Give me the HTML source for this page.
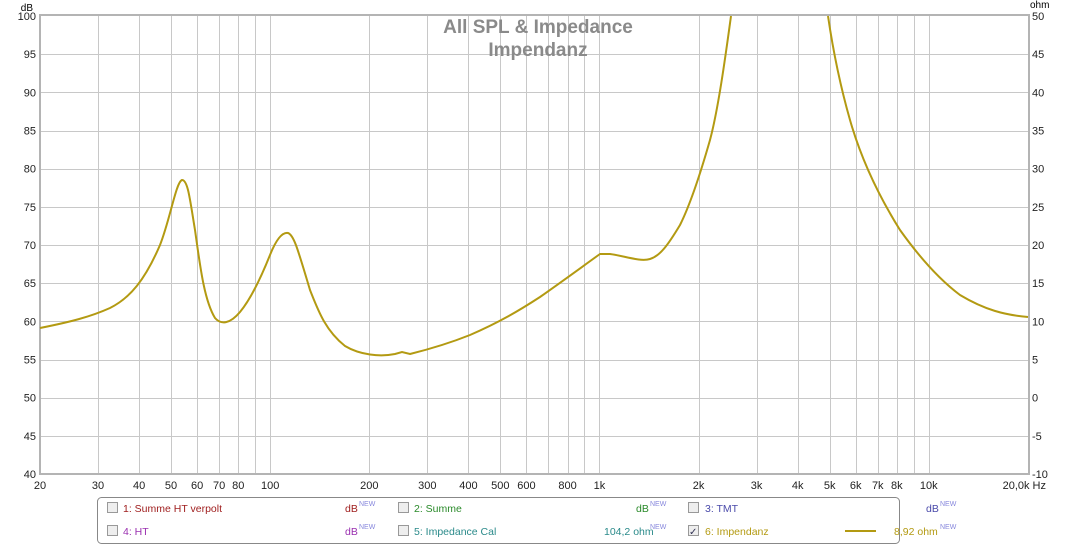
<!DOCTYPE html><html><head><style>body{margin:0;background:#fff;font-family:"Liberation Sans",sans-serif}</style></head><body>
<svg width="1078" height="545" xmlns="http://www.w3.org/2000/svg" font-family="Liberation Sans, sans-serif" font-size="11">
<rect width="1078" height="545" fill="#fff"/>
<g id="grid" stroke="#c8c8c8" stroke-width="1"></g>
<rect x="40" y="15" width="989" height="459" fill="none" stroke="#b4b4b4" stroke-width="2"/>
<text x="538" y="33" text-anchor="middle" font-size="19" font-weight="bold" fill="#8a8a8a">All SPL &amp; Impedance</text>
<text x="538" y="56" text-anchor="middle" font-size="19" font-weight="bold" fill="#8a8a8a">Impendanz</text>
<text x="33" y="11" text-anchor="end" font-size="10">dB</text>
<text x="1030" y="8" font-size="10">ohm</text>
<g id="lab" fill="#222"></g>
<path d="M40,328 C70,322 90,317 110,308 C130,298 145,280 160,245 C170,220 176,182 182,180 C188,180 190,200 195,230 C200,265 204,300 215,318 C221,325 230,324 240,312 C250,300 260,280 270,255 C276,240 282,232 288,233 C294,235 298,250 310,290 C318,310 325,330 345,346 C360,355 380,357 395,354 L402,352 L410,354 C430,349 450,343 470,335 C500,322 520,310 540,297 C560,283 575,272 600,254 L610,254 C625,256 640,262 650,259 C660,256 668,245 680,225 C690,205 700,175 710,140 C718,110 725,60 731,16" fill="none" stroke="#b39a12" stroke-width="2"/>
<path d="M828,16 C833,50 840,85 850,120 C860,155 875,190 900,230 C920,258 940,280 960,295 C985,310 1005,315 1028,317" fill="none" stroke="#b39a12" stroke-width="2"/>
<rect x="97.5" y="497.5" width="802" height="46" rx="4" fill="#fff" stroke="#888"/>
<g font-size="10.5">
<rect x="107.5" y="502.5" width="10" height="10" fill="#eee" stroke="#999"/><text x="123" y="512" fill="#a02020">1: Summe HT verpolt</text><text x="345" y="512" fill="#a02020">dB</text><text x="359" y="506" font-size="7" fill="#8888dd">NEW</text>
<rect x="398.5" y="502.5" width="10" height="10" fill="#eee" stroke="#999"/><text x="414" y="512" fill="#2a8a2a">2: Summe</text><text x="636" y="512" fill="#2a8a2a">dB</text><text x="650" y="506" font-size="7" fill="#8888dd">NEW</text>
<rect x="688.5" y="502.5" width="10" height="10" fill="#eee" stroke="#999"/><text x="705" y="512" fill="#4a4aaa">3: TMT</text><text x="926" y="512" fill="#4a4aaa">dB</text><text x="940" y="506" font-size="7" fill="#8888dd">NEW</text>
<rect x="107.5" y="525.5" width="10" height="10" fill="#eee" stroke="#999"/><text x="123" y="535" fill="#9a30b0">4: HT</text><text x="345" y="535" fill="#9a30b0">dB</text><text x="359" y="529" font-size="7" fill="#8888dd">NEW</text>
<rect x="398.5" y="525.5" width="10" height="10" fill="#eee" stroke="#999"/><text x="414" y="535" fill="#2a8a8a">5: Impedance Cal</text><text x="604" y="535" fill="#2a8a8a">104,2 ohm</text><text x="650" y="529" font-size="7" fill="#8888dd">NEW</text>
<rect x="688.5" y="525.5" width="10" height="10" fill="#eee" stroke="#999"/><text x="689" y="535" font-size="10" fill="#335">✓</text><text x="705" y="535" fill="#b39a12">6: Impendanz</text><line x1="845" y1="531" x2="876" y2="531" stroke="#b39a12" stroke-width="2"/><text x="894" y="535" fill="#b39a12">8,92 ohm</text><text x="940" y="529" font-size="7" fill="#8888dd">NEW</text>
</g>
</svg>
<script>
const g=document.getElementById('grid'),l=document.getElementById('lab'),NS='http://www.w3.org/2000/svg';
function X(f){return 40+Math.log10(f/20)*329.3}
function el(t,a,p,txt){const e=document.createElementNS(NS,t);for(const k in a)e.setAttribute(k,a[k]);if(txt!==undefined)e.textContent=txt;p.appendChild(e)}
const fs=[];for(const d of [10,100,1000,10000])for(let m=1;m<10;m++){const f=m*d;if(f>20&&f<20000)fs.push(f)}
fs.forEach(f=>{const x=Math.round(X(f))+.5;el('line',{x1:x,x2:x,y1:16,y2:474},g)});
for(let i=1;i<12;i++){const y=Math.round(16+i*458/12)+.5;el('line',{x1:40,x2:1028,y1:y,y2:y},g)}
for(let i=0;i<=12;i++){const y=16+i*458/12;el('text',{x:36,y:y+4,'text-anchor':'end'},l,String(100-5*i));el('text',{x:1032,y:y+4},l,String(50-5*i))}
[[20,'20'],[30,'30'],[40,'40'],[50,'50'],[60,'60'],[70,'70'],[80,'80'],[100,'100'],[200,'200'],[300,'300'],[400,'400'],[500,'500'],[600,'600'],[800,'800'],[1000,'1k'],[2000,'2k'],[3000,'3k'],[4000,'4k'],[5000,'5k'],[6000,'6k'],[7000,'7k'],[8000,'8k'],[10000,'10k']].forEach(([f,t])=>el('text',{x:X(f),y:489,'text-anchor':'middle'},l,t));
el('text',{x:1046,y:489,'text-anchor':'end'},l,'20,0k Hz');
</script>
</body></html>
